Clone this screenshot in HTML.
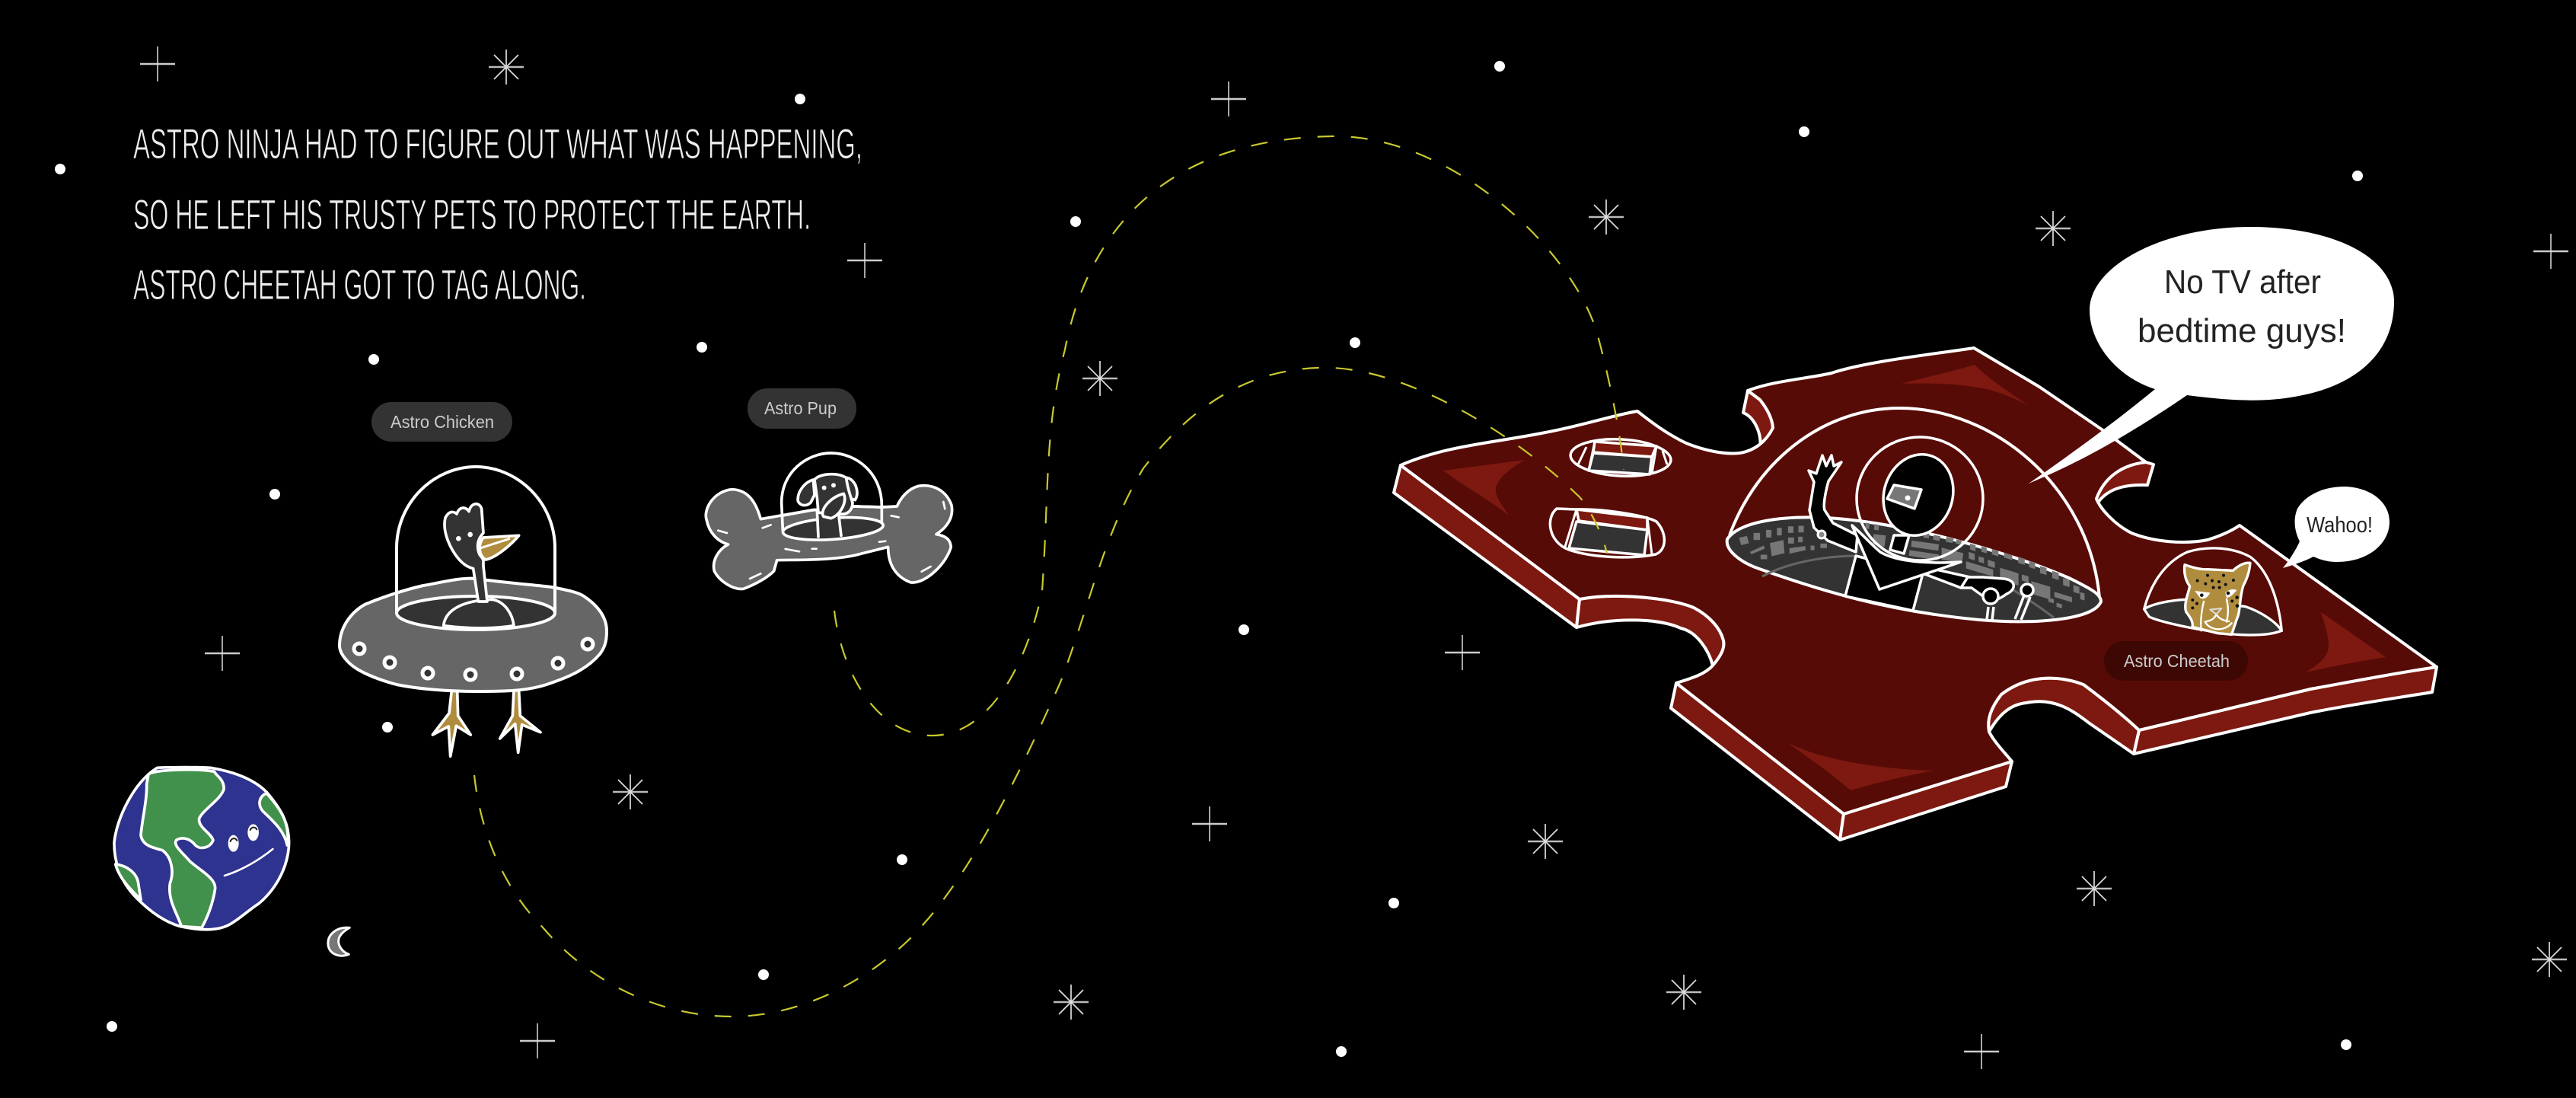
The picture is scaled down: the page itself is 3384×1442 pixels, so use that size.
<!DOCTYPE html>
<html>
<head>
<meta charset="utf-8">
<style>
html,body{margin:0;padding:0;background:#000;width:3384px;height:1442px;overflow:hidden}
svg{display:block}
text{font-family:"Liberation Sans",sans-serif}
</style>
</head>
<body>
<svg width="3384" height="1442" viewBox="0 0 3384 1442" xmlns="http://www.w3.org/2000/svg">
<defs>
<g id="p"><path d="M-23,0H23" stroke="#ccc" stroke-width="2.5"/><path d="M0,-23V23" stroke="#ddd" stroke-width="1.5"/></g>
<g id="a" stroke="#ddd" stroke-width="1.7"><path d="M-23,0H23" stroke-width="2.5" stroke="#bbb"/><path d="M0,-23V23M-16,-16L16,16M-16,16L16,-16"/></g>
</defs>
<rect width="3384" height="1442" fill="#000"/>

<!-- dots -->
<g fill="#fff">
<circle cx="79" cy="222" r="7"/><circle cx="1051" cy="130" r="7"/><circle cx="1970" cy="87" r="7"/><circle cx="2370" cy="173" r="7"/><circle cx="3097" cy="231" r="7"/><circle cx="1413" cy="291" r="7"/><circle cx="491" cy="472" r="7"/><circle cx="922" cy="456" r="7"/><circle cx="1780" cy="450" r="7"/><circle cx="361" cy="649" r="7"/><circle cx="1634" cy="827" r="7"/><circle cx="509" cy="955" r="7"/><circle cx="1185" cy="1129" r="7"/><circle cx="1831" cy="1186" r="7"/><circle cx="1003" cy="1280" r="7"/><circle cx="147" cy="1348" r="7"/><circle cx="1762" cy="1381" r="7"/><circle cx="3082" cy="1372" r="7"/>
</g>
<!-- plus stars -->
<use href="#p" x="207" y="84"/><use href="#p" x="1614" y="130"/><use href="#p" x="1136" y="342"/><use href="#p" x="3351" y="330"/><use href="#p" x="292" y="858"/><use href="#p" x="1921" y="857"/><use href="#p" x="1589" y="1082"/><use href="#p" x="706" y="1367"/><use href="#p" x="2603" y="1381"/>
<!-- asterisk stars -->
<use href="#a" x="665" y="88"/><use href="#a" x="2110" y="285"/><use href="#a" x="2697" y="300"/><use href="#a" x="1445" y="497"/><use href="#a" x="828" y="1040"/><use href="#a" x="2030" y="1105"/><use href="#a" x="2751" y="1167"/><use href="#a" x="2212" y="1303"/><use href="#a" x="1407" y="1316"/><use href="#a" x="3349" y="1260"/>

<!-- narrative -->
<g fill="#eee" font-size="56" stroke="#000" stroke-width="1">
<text x="175" y="208" textLength="958" lengthAdjust="spacingAndGlyphs">ASTRO NINJA HAD TO FIGURE OUT WHAT WAS HAPPENING,</text>
<text x="175" y="301" textLength="890" lengthAdjust="spacingAndGlyphs">SO HE LEFT HIS TRUSTY PETS TO PROTECT THE EARTH.</text>
<text x="175" y="393" textLength="595" lengthAdjust="spacingAndGlyphs">ASTRO CHEETAH GOT TO TAG ALONG.</text>
</g>

<!-- labels -->
<rect x="488" y="528" width="185" height="52" rx="26" fill="#333"/>
<text x="513" y="562" font-size="23" fill="#ccc" textLength="136" lengthAdjust="spacingAndGlyphs">Astro Chicken</text>
<rect x="982" y="510" width="143" height="53" rx="26" fill="#333"/>
<text x="1004" y="544" font-size="23" fill="#ccc" textLength="95" lengthAdjust="spacingAndGlyphs">Astro Pup</text>

<!-- chicken ufo legs -->
<g transform="translate(540 880) scale(.3333)" fill="#b08d3e" stroke="#fff" stroke-width="11" stroke-linejoin="round">
<path d="M160,80L182,80L185,180L235,255L178,220L155,340L148,222L85,255L150,170Z"/>
<path d="M405,80L425,80L430,180L510,245L437,215L422,325L410,212L350,270L400,180Z"/>
</g>
<!-- saucer -->
<g stroke="#fff" stroke-width="4" stroke-linejoin="round">
<path d="M479,794C500,785 530,775 556,769C580,765 605,758 626,760C660,765 700,768 725,771C745,775 760,778 767,783C785,795 797,810 797,829C797,845 793,852 788,859C770,880 745,890 718,899C690,908 660,908 626,908C590,908 550,905 521,899C495,892 470,882 458,870C450,862 446,855 446,848C446,825 460,805 479,794Z" fill="#666"/>
<ellipse cx="625" cy="805" rx="104" ry="22" fill="#333"/>
</g>
<g transform="translate(540 600) scale(.3333)" stroke="#fff" stroke-width="11" stroke-linejoin="round">
<path d="M128,665C135,600 210,565 320,562C370,570 400,620 405,665C310,680 210,675 128,665Z" fill="#333"/>
<path d="M135,240C150,210 170,215 180,225C190,195 215,195 228,215C235,180 270,175 278,205L285,300C265,320 255,350 270,385L285,405L285,430L300,570L265,570L245,440C200,430 165,380 145,330C130,290 130,260 135,240Z" fill="#333"/>
<path d="M285,318L425,310C400,340 340,395 295,405C270,395 260,350 285,318Z" fill="#b08d3e"/>
<path d="M272,360L390,322" fill="none" stroke-width="9"/>
<circle cx="187" cy="322" r="10" fill="#fff" stroke="none"/><circle cx="233" cy="306" r="10" fill="#fff" stroke="none"/>
</g>
<path d="M521,805L521,720C521,660 570,613 625,613C680,613 729,660 729,720L729,805" fill="none" stroke="#fff" stroke-width="4"/>
<g fill="#333" stroke="#fff" stroke-width="5">
<circle cx="472" cy="852" r="7"/><circle cx="512" cy="870" r="7"/><circle cx="562" cy="884" r="7"/><circle cx="618" cy="886" r="7"/><circle cx="679" cy="885" r="7"/><circle cx="733" cy="871" r="7"/><circle cx="772" cy="846" r="7"/>
</g>

<!-- bone ship -->
<g transform="translate(900 590) scale(.3333)" stroke="#fff" stroke-width="11" stroke-linejoin="round" stroke-linecap="round">
<path d="M298,275C285,230 260,160 185,158C110,165 70,240 85,280C95,330 130,365 170,375C130,395 105,440 115,480C135,520 190,555 230,550C270,535 320,510 350,480L362,437C450,435 600,440 700,410L800,385C800,440 820,500 890,525C950,530 1030,450 1048,385C1045,350 1020,340 990,335C1030,310 1060,270 1050,220C1030,165 980,135 920,145C880,155 850,190 835,225L775,228L665,225L500,240Z" fill="#666"/>
<ellipse cx="583" cy="313" rx="198" ry="42" transform="rotate(-4 583 313)" fill="#333"/>
<path d="M525,345L520,240L605,255L615,340" fill="#333"/>
<path d="M505,120C470,130 440,170 445,205C455,225 480,225 495,210L510,180Z" fill="#333"/>
<path d="M635,112C670,115 690,170 670,200L640,190Z" fill="#333"/>
<path d="M510,120C530,95 600,90 635,112C640,150 650,180 660,210C660,240 640,260 610,255L525,250L520,190Z" fill="#333"/>
<path d="M545,265C530,240 570,190 625,175C640,210 610,260 575,272Z" fill="#333"/>
<circle cx="548" cy="152" r="9" fill="#fff" stroke="none"/><circle cx="585" cy="142" r="9" fill="#fff" stroke="none"/>
<path d="M385,320L380,210C380,90 480,15 575,15C680,15 775,100 775,220L775,290" fill="none"/>
<path d="M380,262L510,238M665,225L775,228" fill="none"/>
<path d="M130,320L165,330M305,310L338,298M395,393L450,403M500,392L518,392M255,510L298,490M765,365L790,362M812,262L842,268M1018,207L1024,235M932,482L968,462" fill="none" stroke-width="8"/>
</g>

<!-- earth -->
<g transform="translate(100 950) scale(.3333)" stroke="#fff" stroke-width="11" stroke-linejoin="round" stroke-linecap="round">
<path d="M150,470C160,370 230,230 320,175C380,172 480,172 530,175C620,190 700,220 750,270C810,340 845,400 838,490C830,580 780,660 720,710C680,735 640,775 600,795C550,820 480,815 410,800C340,780 280,730 240,690C190,640 150,570 150,470Z" fill="#2e338f"/>
<path d="M285,200C320,180 480,178 545,190C550,205 585,220 582,260C570,300 500,340 485,375C480,410 530,430 540,460C530,490 490,500 470,480C450,455 420,445 395,460C380,480 420,510 450,545C490,580 550,610 548,650C540,710 515,770 495,805L415,800C400,750 360,700 370,630C385,590 380,530 340,500C300,490 260,480 255,440C260,380 280,300 278,240Z" fill="#41914d"/>
<path d="M750,275C720,290 715,320 735,345C770,380 820,420 832,480C845,400 810,340 750,275Z" fill="#41914d"/>
<path d="M155,555C200,560 240,590 245,630L255,695C210,650 170,610 155,555Z" fill="#41914d"/>
<ellipse cx="620" cy="473" rx="21" ry="33" fill="#fff" stroke="none"/><ellipse cx="698" cy="430" rx="22" ry="33" fill="#fff" stroke="none"/>
<path d="M608,465C614,450 628,450 634,462M686,420C692,407 706,407 712,418" fill="none" stroke="#222" stroke-width="6"/>
<path d="M585,600C650,580 720,540 775,495" fill="none" stroke-width="8"/>
<path d="M1078,805C1030,800 990,830 993,870C995,910 1040,925 1075,910C1045,900 1030,870 1035,850C1040,830 1060,815 1078,805Z" fill="#777" stroke-width="9"/>
</g>

<!-- puzzle sides -->
<g fill="#7d1910" stroke="#fff" stroke-width="4" stroke-linejoin="round">
<path d="M1840,611L2075,787L2071,824L1831,647Z"/>
<path d="M2075,787C2120,778 2195,785 2225,798C2246,809 2260,825 2264,841C2266,850 2262,860 2250,874C2245,855 2230,830 2208,825C2180,812 2120,810 2071,824Z"/>
<path d="M2202,897L2422,1069L2417,1103L2195,930Z"/>
<path d="M2422,1069L2643,1000L2635,1033L2417,1103Z"/>
<path d="M2296,513L2290,542C2305,548 2315,570 2312,590C2325,580 2332,570 2329,562C2328,548 2320,535 2312,525Z"/>
<path d="M2819,607L2829,610L2821,637C2795,636 2770,640 2756,660C2750,650 2752,630 2765,622C2780,612 2800,608 2819,607Z"/>
<path d="M2810,959C2870,945 2950,925 3035,905C3080,897 3140,885 3201,876L3195,909C3140,918 3090,925 3035,936L2803,990Z"/>
<path d="M2810,959C2790,940 2765,920 2737,899C2700,885 2660,888 2629,912C2615,930 2610,945 2613,961C2625,940 2640,925 2662,923C2700,915 2725,935 2745,950L2803,990Z"/>
</g>
<!-- puzzle top -->
<path d="M1840,611C1900,585 1960,582 2030,568C2075,560 2120,545 2151,540C2170,555 2190,570 2215,582C2240,592 2265,597 2285,595C2305,592 2320,580 2329,562C2328,548 2320,535 2312,525L2296,513C2330,500 2370,498 2406,490C2450,475 2540,465 2593,457L2679,508L2764,566L2819,607C2790,610 2765,625 2754,655C2760,670 2780,690 2800,700C2830,712 2870,715 2900,709C2920,703 2935,695 2942,690L3201,876C3140,885 3080,897 3035,905C2950,925 2870,945 2810,959C2790,940 2765,920 2737,899C2700,885 2660,888 2629,912C2615,930 2610,945 2613,961C2620,975 2635,990 2643,1000L2422,1069L2202,897C2225,890 2240,885 2250,874C2262,860 2266,850 2264,841C2260,825 2246,809 2225,798C2195,785 2120,778 2075,787Z" fill="#570b06" stroke="#fff" stroke-width="4" stroke-linejoin="round"/>
<!-- accents -->
<g fill="#7d1910">
<path d="M1896,618L2003,604C1985,615 1970,625 1965,640C1963,652 1975,665 1982,677C1955,655 1925,640 1896,618Z"/>
<path d="M2498,504C2530,495 2565,488 2594,479C2615,500 2640,515 2664,532C2640,520 2615,510 2591,508C2560,503 2525,503 2498,504Z"/>
<path d="M3049,804L3134,863C3100,868 3060,876 3029,883C3050,870 3060,860 3059,845C3058,830 3052,815 3049,804Z"/>
<path d="M2348,975C2385,995 2460,1010 2539,1012C2500,1020 2465,1028 2431,1038C2405,1015 2375,995 2348,975Z"/>
</g>

<!-- holes -->
<g stroke="#fff" stroke-width="3.5" stroke-linejoin="round">
<ellipse cx="2129" cy="601" rx="66" ry="24" transform="rotate(3 2129 601)" fill="#570b06"/>
<path d="M2095,580L2176,586L2170,600L2093,594Z" fill="#7d1910"/>
<path d="M2093,595L2170,600L2167,623L2087,618Z" fill="#333"/>
<path d="M2095,580L2087,618M2176,586L2170,622M2084,587L2073,610M2184,592L2190,610" fill="none" stroke-width="3"/>
<path d="M2071,669L2045,668C2030,680 2034,712 2061,722C2090,732 2140,735 2175,728C2190,722 2190,700 2176,685C2165,678 2110,668 2071,669Z" fill="#570b06"/>
<path d="M2071,669L2164,680L2164,696L2074,684Z" fill="#7d1910"/>
<path d="M2071,685L2164,696L2160,729L2061,720Z" fill="#333"/>
<path d="M2071,669L2056,718M2164,680L2170,728" fill="none" stroke-width="3"/>
</g>

<!-- main cockpit -->
<path id="ck" d="M2269,708C2285,685 2340,677 2400,680C2500,686 2640,725 2720,760C2746,773 2760,780 2760,790C2750,815 2670,820 2600,814C2480,803 2390,775 2311,747C2285,738 2266,722 2269,708Z" fill="#333" stroke="#fff" stroke-width="4"/>
<g transform="translate(2240 570) scale(.357 .333)" fill="#777">
<g transform="rotate(-15 143 420)"><rect x="128" y="405" width="30" height="30"/></g>
<rect x="178" y="390" width="24" height="28"/><rect x="224" y="378" width="20" height="30"/><rect x="264" y="370" width="18" height="30"/><rect x="305" y="364" width="20" height="26"/><rect x="343" y="362" width="20" height="26"/>
<rect x="305" y="408" width="22" height="24"/><rect x="342" y="405" width="17" height="22"/><rect x="204" y="476" width="24" height="18"/><rect x="388" y="440" width="14" height="18"/><rect x="424" y="432" width="24" height="18"/>
<path d="M238,430L288,418L292,470L245,482ZM165,465L215,440L220,452L170,474ZM310,450L368,442L370,458L310,472Z"/>
<g transform="skewY(18)">
<rect x="975" y="115" width="20" height="24"/><rect x="1016" y="112" width="20" height="22"/><rect x="1055" y="110" width="24" height="22"/><rect x="1100" y="110" width="30" height="20"/><rect x="1152" y="110" width="24" height="24"/><rect x="1192" y="112" width="22" height="26"/><rect x="1232" y="120" width="24" height="28"/><rect x="1277" y="125" width="24" height="28"/><rect x="1317" y="140" width="24" height="28"/><rect x="1355" y="155" width="22" height="28"/><rect x="1380" y="175" width="16" height="28"/>
<rect x="970" y="150" width="22" height="26"/><rect x="1006" y="155" width="20" height="22"/><rect x="1040" y="158" width="26" height="24"/>
<rect x="960" y="190" width="100" height="28"/><rect x="1085" y="175" width="68" height="48"/><rect x="1165" y="175" width="25" height="24"/><rect x="1200" y="190" width="70" height="50"/><rect x="1285" y="205" width="65" height="20"/><rect x="1263" y="235" width="20" height="16"/><rect x="1293" y="245" width="20" height="16"/>
</g>
<path d="M760,420L860,435L858,460L758,445ZM752,458L860,475L858,498L750,480ZM870,448L950,470L945,510L870,495ZM620,395L665,400L660,445L615,435ZM590,350L605,352L603,375L590,372ZM622,355L640,358L638,380L622,378ZM805,390L825,393L823,412L803,408ZM842,398L866,403L862,422L838,416ZM888,405L915,412L910,430L885,425ZM925,415L945,420L940,436L922,432Z"/>
</g>
<path d="M2315,757C2350,738 2400,730 2440,730M2640,772C2670,790 2690,805 2698,811" fill="none" stroke="#666" stroke-width="3"/>

<!-- ninja -->
<g stroke="#fff" stroke-width="3.5" stroke-linejoin="round" fill="#000">
<path d="M2438,730L2424,783L2513,802L2526,753Z"/>
<path d="M2383,633L2376,618L2386,622L2394,598L2399,612L2406,598L2409,612L2419,607L2402,632C2397,650 2395,665 2397,670L2408,687L2440,703L2438,725L2401,710L2383,693L2377,670Z"/>
<ellipse cx="2393" cy="702" rx="5" ry="5" fill="#888" stroke-width="3"/>
<path d="M2526,753L2576,772L2588,758L2530,745Z"/>
<path d="M2585,758L2605,758L2632,760C2650,762 2648,775 2636,780C2628,786 2620,790 2612,788L2590,772L2576,772Z"/>
<path d="M2433,690L2469,774L2576,738C2545,740 2495,740 2470,725C2455,712 2445,700 2433,690Z"/>
<path d="M2488,703L2508,703L2501,727L2483,722Z"/>
<ellipse cx="2520" cy="650" rx="45" ry="54" transform="rotate(18 2520 650)"/>
<path d="M2488,637L2524,643L2515,668L2479,655Z" fill="#777"/>
<ellipse cx="2522" cy="655" rx="83" ry="81" fill="none"/>
<circle cx="2615" cy="783" r="10"/>
<circle cx="2663" cy="775" r="8"/>
<path d="M2612,797L2610,814M2619,797L2617,814M2659,782L2647,813M2667,784L2655,814" fill="none"/>
</g>
<circle cx="2506" cy="654" r="3.5" fill="#fff"/>
<path d="M2272,703C2310,600 2400,536 2495,536C2620,536 2745,640 2758,785" fill="none" stroke="#fff" stroke-width="4"/>

<!-- dashed trajectories -->
<g fill="none" stroke="#c9c82e" stroke-width="2.2" stroke-dasharray="22 22">
<path d="M623,1018C632,1100 665,1170 713,1218C770,1285 860,1335 962,1335C1050,1335 1135,1290 1192,1236C1260,1170 1320,1060 1393,896C1430,800 1450,700 1502,615C1545,560 1620,480 1748,483C1850,486 1990,570 2071,649C2085,660 2105,700 2111,727"/>
<path d="M1096,802C1105,880 1150,966 1225,966C1300,966 1350,870 1369,776C1378,650 1372,560 1399,459C1420,350 1490,184 1748,179C1900,175 2060,320 2097,434C2110,480 2128,560 2133,617"/>
</g>

<!-- cheetah -->
<g transform="translate(2800 700) scale(.3333)" stroke="#fff" stroke-width="10" stroke-linejoin="round" stroke-linecap="round">
<path d="M50,300C80,280 150,265 215,262L450,290C510,310 570,350 592,385C530,410 400,405 300,385C200,370 100,345 70,330Z" fill="#333"/>
<path d="M210,125C240,135 270,145 300,143L400,148C420,130 445,115 468,118C465,160 450,190 440,210C425,260 430,310 415,340L395,400L340,395L240,370C245,350 230,330 215,310C205,280 225,235 230,210C215,190 205,160 210,125Z" fill="#b08d3e"/>
<path d="M275,385C270,340 280,290 285,270M375,350C385,310 380,280 375,260M290,350C310,345 325,342 335,320C345,340 365,345 385,348M290,350C310,385 365,390 395,355" fill="none" stroke-width="7"/>
<path d="M310,302L355,297L335,320Z" fill="#b08d3e" stroke="#ddd" stroke-width="6"/>
<path d="M250,228L310,235C300,255 285,265 270,255ZM370,235C385,220 405,220 415,225C400,245 385,255 375,255Z" fill="#fff" stroke="none"/>
<g fill="#111" stroke="none">
<circle cx="277" cy="245" r="7"/><circle cx="381" cy="237" r="7"/>
<circle cx="300" cy="167" r="6"/><circle cx="363" cy="167" r="6"/><circle cx="260" cy="188" r="6"/><circle cx="318" cy="188" r="6"/><circle cx="345" cy="192" r="6"/><circle cx="402" cy="186" r="6"/><circle cx="292" cy="200" r="6"/><circle cx="371" cy="203" r="6"/><circle cx="323" cy="215" r="6"/><circle cx="347" cy="215" r="6"/><circle cx="241" cy="264" r="6"/><circle cx="258" cy="278" r="6"/><circle cx="241" cy="295" r="6"/><circle cx="397" cy="268" r="6"/><circle cx="416" cy="254" r="7"/><circle cx="417" cy="287" r="7"/>
</g>
<path d="M50,300C70,220 120,120 220,75C300,50 400,55 470,95C540,150 580,260 592,385" fill="none"/>
</g>

<!-- speech bubbles -->
<path d="M2831,511C2780,495 2745,450 2745,407C2745,350 2840,298 2956,298C3070,298 3145,340 3145,396C3145,460 3100,505 3020,520C2970,530 2920,525 2873,519C2820,555 2750,600 2665,635C2730,590 2790,545 2831,511Z" fill="#fff"/>
<text x="2843" y="385" font-size="44" fill="#222" textLength="206" lengthAdjust="spacingAndGlyphs">No TV after</text>
<text x="2808" y="449" font-size="44" fill="#222" textLength="274" lengthAdjust="spacingAndGlyphs">bedtime guys!</text>
<path d="M3021,711C3013,695 3013,680 3018,668C3030,648 3055,639 3080,639C3115,640 3139,660 3139,685C3139,715 3110,738 3070,738C3058,738 3048,735 3039,731C3028,737 3012,742 2999,746C3008,735 3016,722 3021,711Z" fill="#fff"/>
<text x="3030" y="699" font-size="29" fill="#222" textLength="87" lengthAdjust="spacingAndGlyphs">Wahoo!</text>

<rect x="2764" y="842" width="189" height="52" rx="26" fill="#3d0704"/>
<text x="2790" y="876" font-size="23" fill="#ccc" textLength="139" lengthAdjust="spacingAndGlyphs">Astro Cheetah</text>
</svg>
</body>
</html>
